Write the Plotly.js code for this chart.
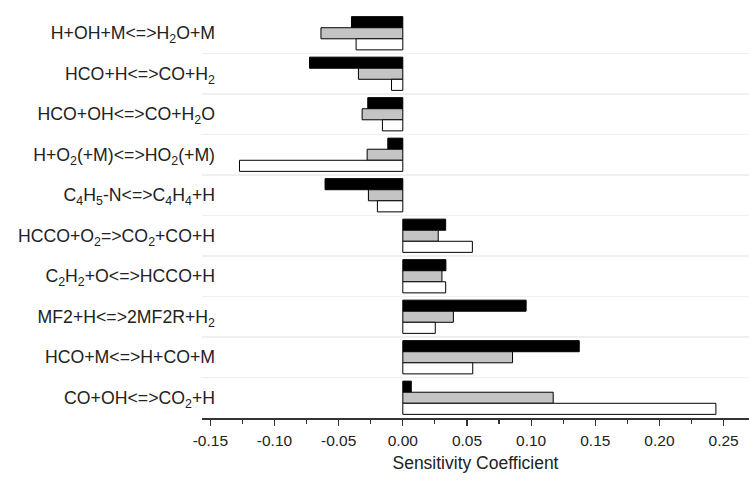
<!DOCTYPE html>
<html>
<head>
<meta charset="utf-8">
<script src="https://cdn.plot.ly/plotly-3.0.1.min.js"></script>
<style>html,body{margin:0;padding:0;background:#fff;}#chart{width:749px;height:481px;}</style>
</head>
<body>
<div id="chart"></div>
<script>
var reactions = [
  "H+OH+M&lt;=&gt;H<sub>2</sub>O+M",
  "HCO+H&lt;=&gt;CO+H<sub>2</sub>",
  "HCO+OH&lt;=&gt;CO+H<sub>2</sub>O",
  "H+O<sub>2</sub>(+M)&lt;=&gt;HO<sub>2</sub>(+M)",
  "C<sub>4</sub>H<sub>5</sub>-N&lt;=&gt;C<sub>4</sub>H<sub>4</sub>+H",
  "HCCO+O<sub>2</sub>=&gt;CO<sub>2</sub>+CO+H",
  "C<sub>2</sub>H<sub>2</sub>+O&lt;=&gt;HCCO+H",
  "MF2+H&lt;=&gt;2MF2R+H<sub>2</sub>",
  "HCO+M&lt;=&gt;H+CO+M",
  "CO+OH&lt;=&gt;CO<sub>2</sub>+H"
];
var seriesBlack = [-0.040, -0.0727, -0.0273, -0.0117, -0.0606, 0.0334, 0.0336, 0.0961, 0.1375, 0.0066];
var seriesGray  = [-0.0638, -0.0346, -0.0317, -0.0278, -0.0268, 0.0276, 0.0305, 0.0394, 0.0855, 0.1172];
var seriesWhite = [-0.0364, -0.0088, -0.0159, -0.1273, -0.0198, 0.0542, 0.0334, 0.0253, 0.0545, 0.2440];
var xTickVals = [-0.15, -0.10, -0.05, 0.00, 0.05, 0.10, 0.15, 0.20, 0.25];
var xTickText = ["-0.15", "-0.10", "-0.05", "0.00", "0.05", "0.10", "0.15", "0.20", "0.25"];
var xRange = [-0.1565, 0.2698];

var FONT = "Liberation Sans, Arial, Helvetica, sans-serif";
function barTrace(vals, color) {
  return {
    type: "bar", orientation: "h", y: reactions, x: vals,
    marker: {color: color, line: {color: "#000", width: 1}},
    hoverinfo: "skip", showlegend: false
  };
}
var traces = [
  barTrace(seriesBlack, "#000000"),
  barTrace(seriesGray, "#c4c4c4"),
  barTrace(seriesWhite, "#ffffff")
];
var zeroPos = (0 - xRange[0]) / (xRange[1] - xRange[0]);
var catRange = [reactions.length - 0.5, -0.5];
function overlayAxis(side) {
  return {
    type: "category", categoryarray: reactions, categoryorder: "array",
    range: catRange, overlaying: "y", anchor: "free", position: zeroPos,
    showline: true, linecolor: "#111", linewidth: 1.5,
    ticks: side, ticklen: 5, tickwidth: 1.2, tickcolor: "#111", tickson: "boundaries",
    showticklabels: false, showgrid: false, zeroline: false, fixedrange: true
  };
}
var layout = {
  width: 749, height: 481,
  margin: {l: 202, r: 0, t: 13, b: 63},
  paper_bgcolor: "#fff", plot_bgcolor: "#fff",
  barmode: "group", bargap: 0.18, bargroupgap: 0,
  font: {family: FONT, color: "#222"},
  xaxis: {
    range: xRange, tickvals: xTickVals, ticktext: xTickText,
    ticks: "outside", ticklen: 6, tickwidth: 1.2, tickcolor: "#333",
    minor: {dtick: 0.025, tick0: 0, ticks: "outside", ticklen: 4, tickwidth: 1.2, tickcolor: "#333", showgrid: false},
    showline: true, linecolor: "#333", linewidth: 1.5,
    showgrid: false, zeroline: false,
    ticklabelstandoff: 2,
    tickfont: {size: 15.5, family: FONT, color: "#222"},
    title: {text: "Sensitivity Coefficient", font: {size: 17.5, family: FONT, color: "#222"}, standoff: 8}
  },
  yaxis: {
    type: "category", categoryarray: reactions, categoryorder: "array",
    range: catRange, ticks: "", tickson: "boundaries",
    showgrid: true, gridcolor: "#efefef", gridwidth: 1.5,
    showline: false, zeroline: false,
    ticklabelstandoff: -14,
    tickfont: {size: 17.7, family: FONT, color: "#222"}
  },
  yaxis2: overlayAxis("outside"),
  yaxis3: overlayAxis("inside")
};
Plotly.newPlot("chart", traces, layout, {displayModeBar: false, staticPlot: true});
</script>
</body>
</html>
